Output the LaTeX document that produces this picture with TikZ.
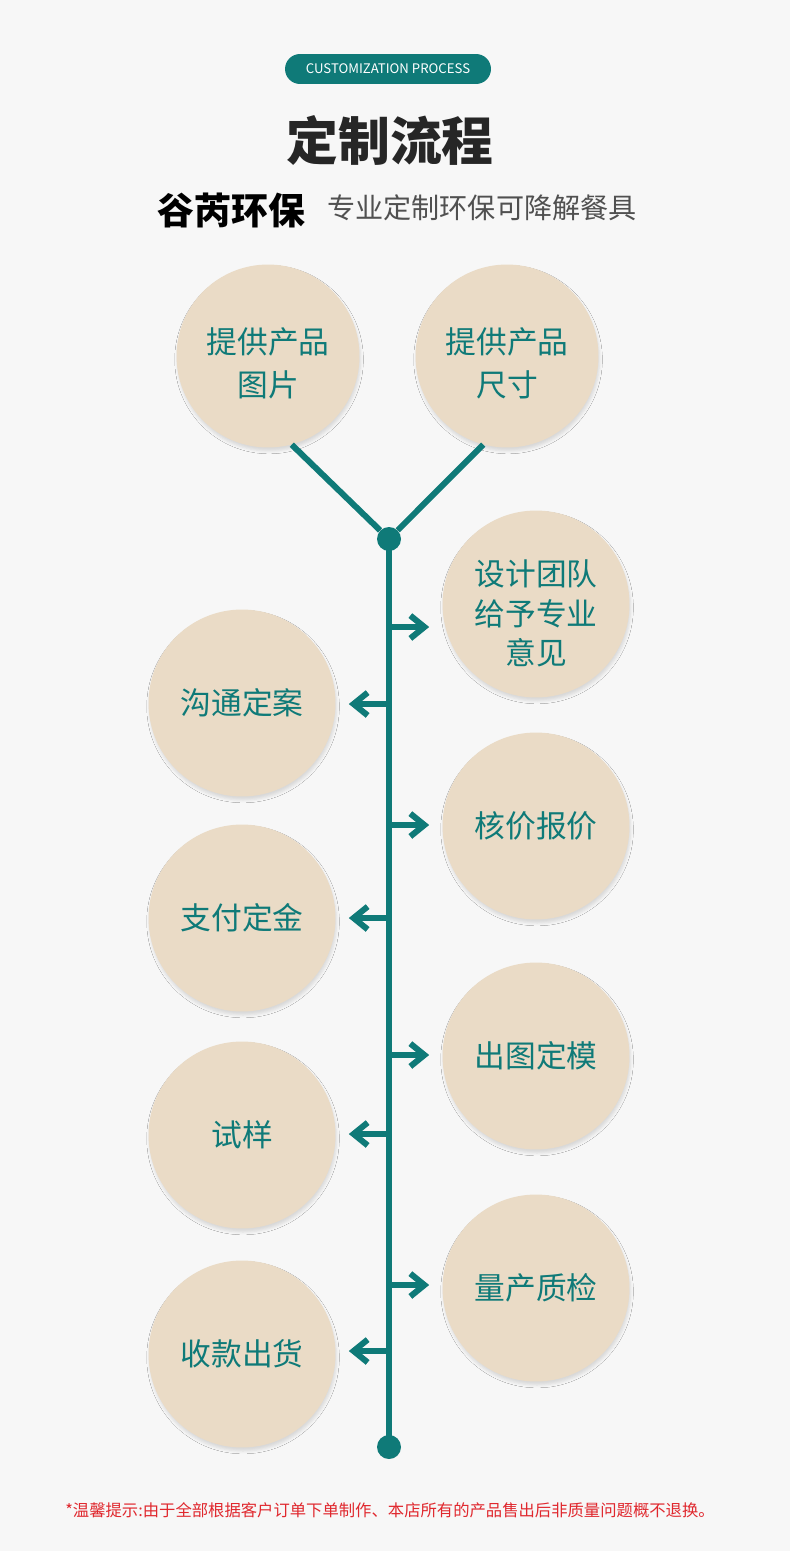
\documentclass[tikz,border=0pt]{standalone}
\usepackage{fontspec}
\setmainfont{Noto Sans CJK SC}
\usetikzlibrary{arrows.meta,shadows.blur}

\definecolor{figteal}{HTML}{0F7A78}
\definecolor{figsand}{HTML}{EADBC6}
\definecolor{figpaper}{HTML}{F7F7F7}
\definecolor{figink}{HTML}{262626}
\definecolor{figgrey}{HTML}{505050}
\definecolor{figred}{HTML}{E0282E}

\newcommand\padtwo{\rule{0pt}{23.4pt}}   % pushes two-line labels down
\newcommand\padthree{\rule{0pt}{25.4pt}} % pushes three-line labels down

\begin{document}
\begin{tikzpicture}[
  x=0.02cm, y=-0.02cm,
  stage/.style={circle, fill=figsand, minimum size=3.74cm, inner sep=0pt,
                align=center, text=figteal, font=\fontsize{17.5}{24.5}\selectfont,
                blur shadow={shadow xshift=0.6pt, shadow yshift=-2pt,
                             shadow blur radius=1.6pt, shadow opacity=12}},
  source/.style={stage, minimum size=3.66cm},
  tight/.style={font=\fontsize{17.5}{22.6}\selectfont},
  dot/.style={circle, fill=figteal, minimum size=0.48cm, inner sep=0pt},
  spine/.style={figteal, line width=0.12cm},
  arr/.style={spine, -{Straight Barb[length=8pt, width=13pt]}, shorten >=0.26cm},
  pill/.style={rectangle, rounded corners=0.3cm, fill=figteal, text=white,
               minimum width=4.12cm, minimum height=0.6cm, inner sep=0pt,
               font=\fontsize{7.5}{9}\selectfont},
  title/.style={font=\fontsize{29.5}{34}\selectfont\bfseries, text=figink},
  brand/.style={font=\fontsize{21}{25}\selectfont\bfseries, text=black, anchor=west, inner sep=0pt},
  slogan/.style={font=\fontsize{16}{20}\selectfont, text=figgrey, anchor=west, inner sep=0pt},
  note/.style={font=\fontsize{9.3}{11}\selectfont, text=figred}]

  \def\sx{389}   % spine x
  \def\lx{242}   % left column
  \def\rx{536}   % right column

  \fill[figpaper] (0,0) rectangle (790,1551);
  \useasboundingbox (0,0) rectangle (790,1551);

  % ---- header -----------------------------------------------------------
  \node[pill] (tag) at (388,69) {CUSTOMIZATION PROCESS};
  \node[title] (head) at (390,140) {定制流程};
  \node[brand] (brand) at (157,210) {谷芮环保};
  \node[slogan] (slogan) at (327,208) {专业定制环保可降解餐具};

  % ---- inputs -----------------------------------------------------------
  \node[source] (tl) at (268,356) {\padtwo 提供产品\\图片};
  \node[source] (tr) at (507,356) {\padtwo 提供产品\\尺寸};

  \node[dot] (top) at (\sx,539) {};
  \node[dot] (bot) at (\sx,1447) {};
  \draw[spine] (top) -- (tl.-75);
  \draw[spine] (top) -- (tr.-105);
  \draw[spine] (top.center) -- (bot.center);

  % ---- stages -----------------------------------------------------------
  \node[stage, tight] (r1) at (\rx,604) {\padthree 设计团队\\给予专业\\意见};
  \foreach \n/\y/\t in {r2/826/核价报价, r3/1056/出图定模, r4/1288/量产质检} {
    \node[stage] (\n) at (\rx,\y) {\t};
  }
  \foreach \n/\y/\t in {l1/703/沟通定案, l2/918/支付定金,
                        l3/1135/试样, l4/1354/收款出货} {
    \node[stage] (\n) at (\lx,\y) {\t};
  }

  % ---- arrows -----------------------------------------------------------
  \foreach \n/\y in {r1/627, r2/825, r3/1055, r4/1285} {
    \coordinate (a\n) at (\sx,\y);
    \draw[arr] (a\n) -- (a\n -| \n.west);
  }
  \foreach \n/\y in {l1/704, l2/918, l3/1134, l4/1351} {
    \coordinate (a\n) at (\sx,\y);
    \draw[arr] (a\n) -- (a\n -| \n.east);
  }

  % ---- footer -----------------------------------------------------------
  \node[note] (note) at (390,1510)
    {*温馨提示:由于全部根据客户订单下单制作、本店所有的产品售出后非质量问题概不退换。};
\end{tikzpicture}
\end{document}
